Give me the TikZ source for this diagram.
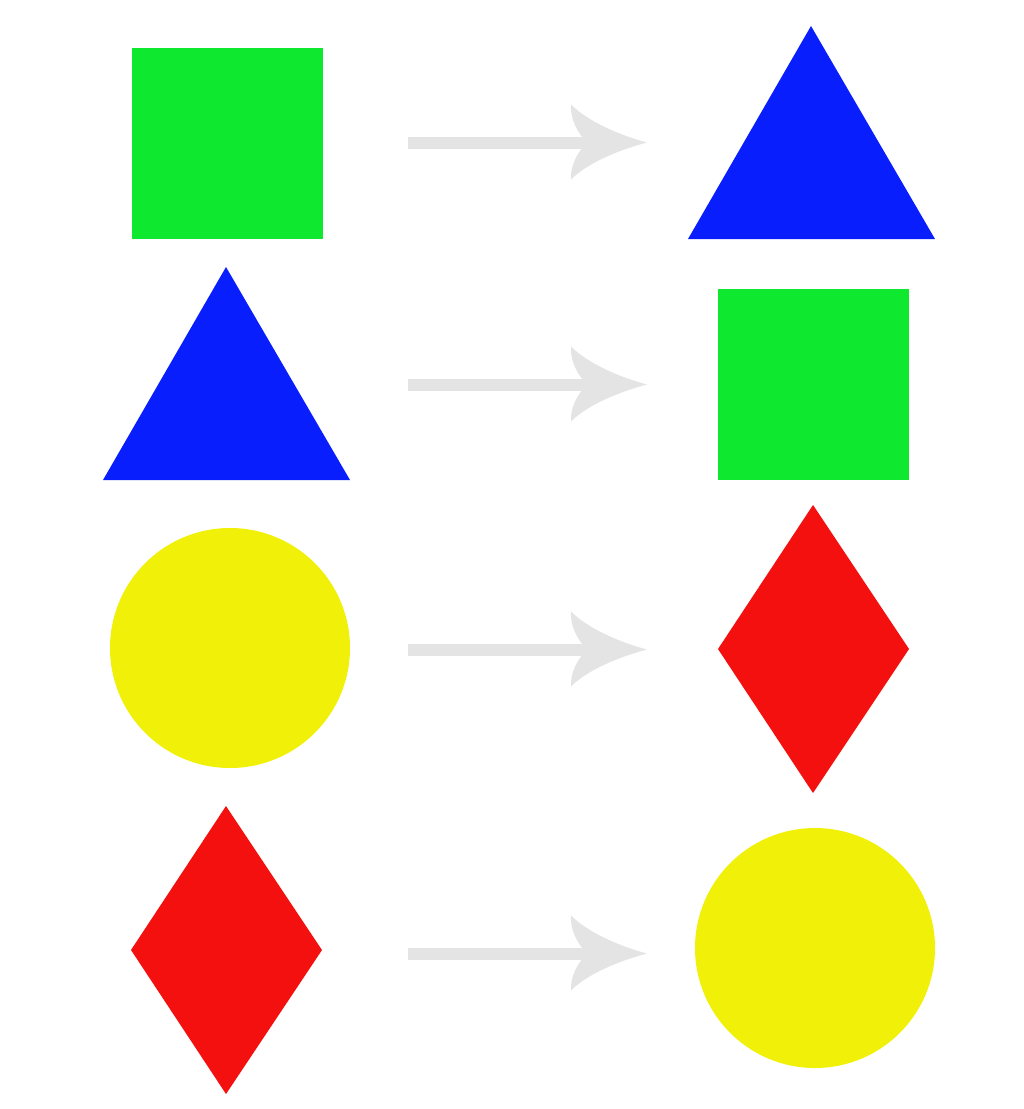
\documentclass[tikz,border=0pt]{standalone}
\usetikzlibrary{shapes.geometric}
\definecolor{sqgreen}{RGB}{14,232,46}
\definecolor{triblue}{RGB}{8,30,252}
\definecolor{circyellow}{RGB}{240,240,8}
\definecolor{diamred}{RGB}{243,16,14}
\definecolor{arrgray}{RGB}{228,228,228}
\tikzset{
  sq/.style={fill=sqgreen},
  tri/.style={fill=triblue},
  circ/.style={fill=circyellow},
  dia/.style={fill=diamred},
  shaft/.style={draw=arrgray, line width=12pt},
  pics/headtip/.style={code={
    \fill[arrgray] (0,0) .. controls (-30,-8) and (-60,-22) .. (-76,-38)
      .. controls (-77,-24) and (-70,-10) .. (-60,0)
      .. controls (-70,10) and (-77,24) .. (-76,37)
      .. controls (-60,21) and (-30,8) .. (0,0) -- cycle;
  }}
}
\begin{document}
\begin{tikzpicture}[x=1pt,y=-1pt]
\useasboundingbox (0,0) rectangle (1024,1109);
% row 1
\fill[sq] (132,48) rectangle (323,239);
\fill[tri] (811,26) -- (935,239) -- (688,239) -- cycle;
% row 2
\fill[tri] (226,267) -- (350,480) -- (103,480) -- cycle;
\fill[sq] (718,289) rectangle (909,480);
% row 3
\fill[circ] (230,648) circle[radius=120pt];
\fill[dia] (813,505) -- (909,649) -- (813,793) -- (718,649) -- cycle;
% row 4
\fill[dia] (226,806) -- (322,950) -- (226,1094) -- (131,950) -- cycle;
\fill[circ] (815,948) circle[radius=120pt];
% arrows
\coordinate (a1s) at (408,142.5); \coordinate (a1e) at (647,142.5);
\coordinate (a2s) at (408,384.5); \coordinate (a2e) at (647,384.5);
\coordinate (a3s) at (408,649.5); \coordinate (a3e) at (647,649.5);
\coordinate (a4s) at (408,953.5); \coordinate (a4e) at (647,953.5);
\foreach \i in {1,2,3,4}{
  \draw[shaft] (a\i s) -- ([xshift=-58pt]a\i e);
  \pic at (a\i e) {headtip};
}
\end{tikzpicture}
\end{document}
